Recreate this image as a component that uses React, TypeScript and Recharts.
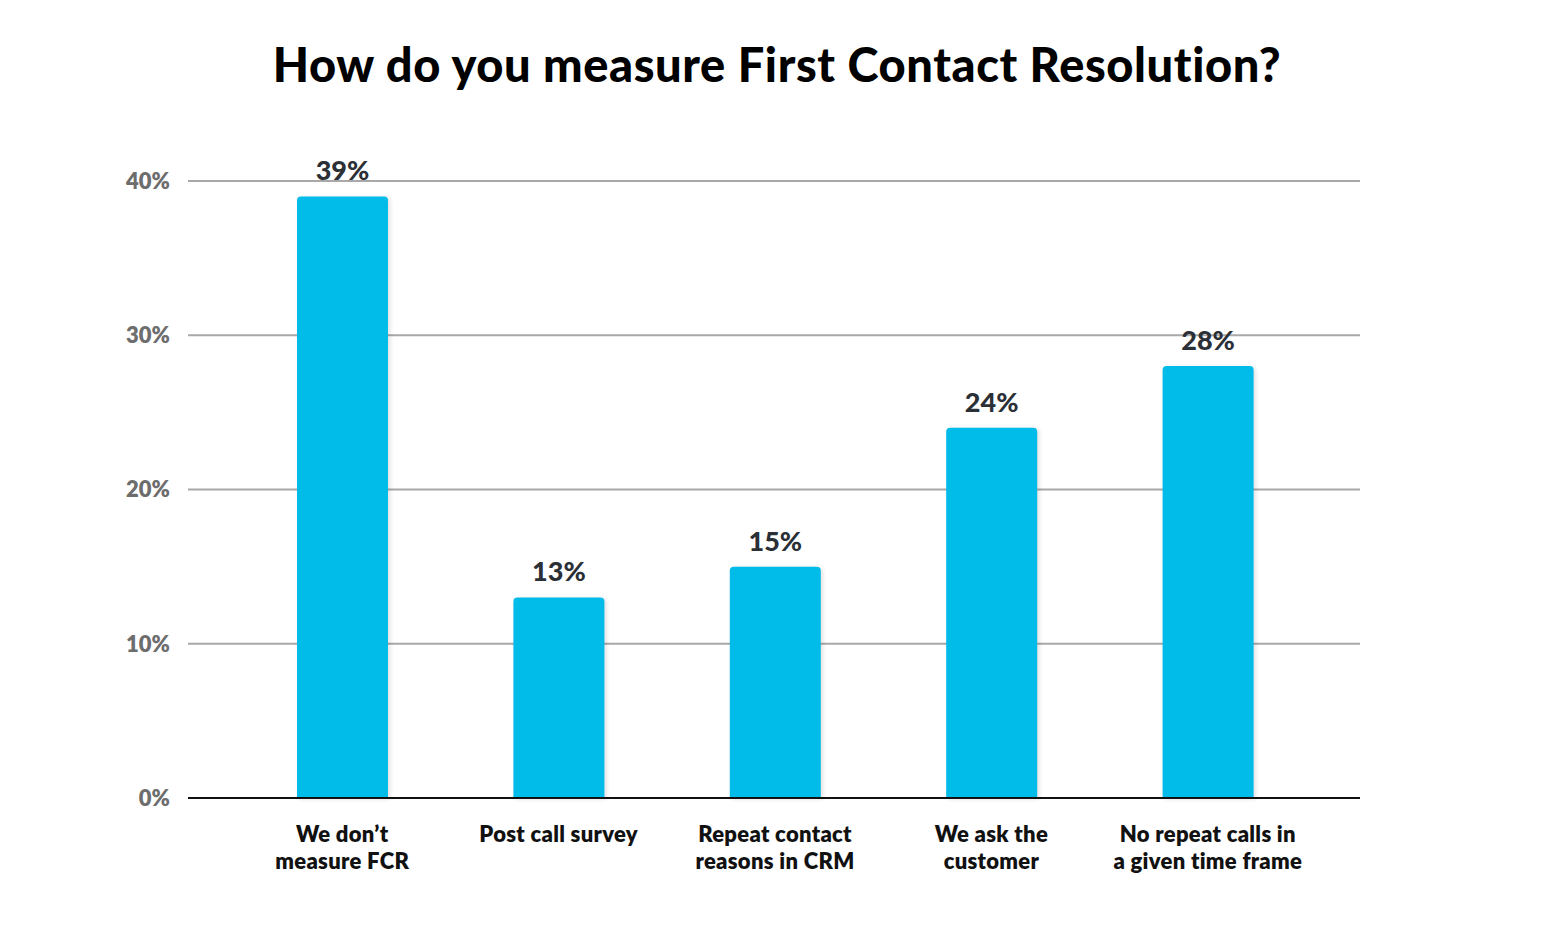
import React from 'react';
import { BarChart, Bar, XAxis, YAxis, CartesianGrid, LabelList } from 'recharts';

const categories = [
  ['We don’t', 'measure FCR'],
  ['Post call survey'],
  ['Repeat contact', 'reasons in CRM'],
  ['We ask the', 'customer'],
  ['No repeat calls in', 'a given time frame'],
];
const shares = [39, 13, 15, 24, 28];
const yTicks = [0, 10, 20, 30, 40];

const data = categories.map((lines, i) => ({ name: lines.join(' '), lines, value: shares[i] }));

const FONT = 'Lato, "Noto Sans", sans-serif';

const CategoryTick = (props: any) => {
  const { x, y, payload } = props;
  const lines = categories[payload.index] || [payload.value];
  return (
    <g transform={`translate(${x},${y})`}>
      {lines.map((line: string, i: number) => (
        <text
          key={i}
          x={0}
          y={36 + i * 27}
          textAnchor="middle"
          fontFamily={FONT}
          fontWeight={800}
          fontSize={22}
          letterSpacing={0.3}
          fill="#111"
          style={{ fontVariantLigatures: 'none' }}
        >
          {line}
        </text>
      ))}
    </g>
  );
};

export default function App() {
  return (
    <div style={{ position: 'relative', width: 1554, height: 938, background: '#fff' }}>
      <style>{`body{margin:0}`}</style>
      <div
        style={{
          position: 'absolute',
          top: 36,
          left: 0,
          width: 1554,
          textAlign: 'center',
          fontFamily: FONT,
          fontWeight: 900,
          fontSize: 47,
          letterSpacing: 0.6,
          fontVariantLigatures: 'none',
          color: '#000',
        }}
      >
        How do you measure First Contact Resolution?
      </div>
      <BarChart
        width={1554}
        height={938}
        data={data}
        margin={{ top: 181, right: 194, bottom: 110, left: 0 }}
      >
        <CartesianGrid vertical={false} stroke="#a8a8a8" strokeWidth={2} />
        <XAxis
          dataKey="name"
          tick={<CategoryTick />}
          tickLine={false}
          axisLine={{ stroke: '#111', strokeWidth: 2 }}
          padding={{ left: 46, right: 44 }}
          interval={0}
        />
        <YAxis
          width={188}
          domain={[0, 40]}
          ticks={yTicks}
          tickFormatter={(v) => `${v}%`}
          tickLine={false}
          axisLine={false}
          tickSize={0}
          tickMargin={18}
          tick={{ fontFamily: FONT, fontWeight: 800, fontSize: 22, fill: '#6d6d6d' }}
        />
        <Bar
          dataKey="value"
          fill="#01bbe9"
          barSize={91}
          radius={[4, 4, 0, 0]}
          isAnimationActive={false}
          style={{ filter: 'drop-shadow(2px 1px 2px rgba(0,0,0,0.12))' }}
        >
          <LabelList
            dataKey="value"
            position="top"
            offset={16}
            formatter={(v: any) => `${v}%`}
            style={{ fontFamily: FONT, fontWeight: 900, fontSize: 27, fill: '#2b2f36' }}
          />
        </Bar>
      </BarChart>
    </div>
  );
}
